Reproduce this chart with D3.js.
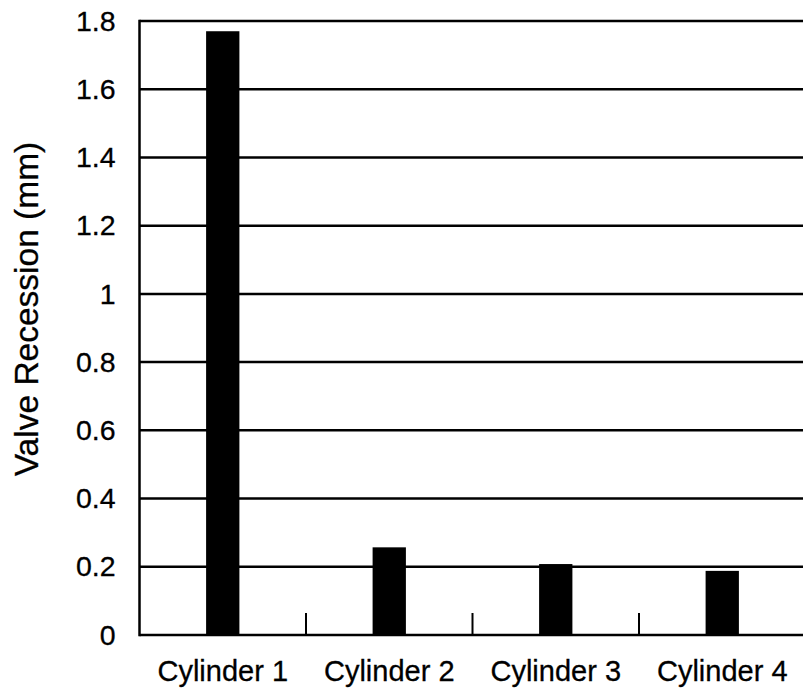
<!DOCTYPE html>
<html>
<head>
<meta charset="utf-8">
<script src="https://cdn.jsdelivr.net/npm/d3@7"></script>
<style>
  body { margin: 0; background: #fff; }
  svg { display: block; }
  text { font-family: "Liberation Sans", Arial, Helvetica, sans-serif; fill: #000; stroke: #000; stroke-width: 0.3; }
</style>
</head>
<body>
<svg width="803" height="690"></svg>
<script>
// chart data
const cylinders = ["Cylinder 1", "Cylinder 2", "Cylinder 3", "Cylinder 4"];
const recession = [1.77, 0.257, 0.208, 0.188];
const yTicks = [0, 0.2, 0.4, 0.6, 0.8, 1, 1.2, 1.4, 1.6, 1.8];
const yTickLabels = ["0", "0.2", "0.4", "0.6", "0.8", "1", "1.2", "1.4", "1.6", "1.8"];
const yTitle = "Valve Recession (mm)";

const svg = d3.select("svg");

// scales
const x = d3.scaleBand()
    .domain(cylinders)
    .range([139.5, 805.5])
    .padding(0);

const y = d3.scaleLinear()
    .domain([0, 1.8])
    .range([635, 21]);

// horizontal grid lines (incl. top at 1.8)
svg.append("g")
  .selectAll("line")
  .data(yTicks.filter(d => d > 0))
  .enter().append("line")
    .attr("x1", x.range()[0])
    .attr("x2", 803)
    .attr("y1", d => y(d))
    .attr("y2", d => y(d))
    .attr("stroke", "#000")
    .attr("stroke-width", 2.5);

// bars
const barFrac = 0.2;
svg.append("g")
  .selectAll("rect")
  .data(cylinders.map((c, i) => ({ c, v: recession[i] })))
  .enter().append("rect")
    .attr("x", d => x(d.c) + x.bandwidth() * (1 - barFrac) / 2)
    .attr("width", x.bandwidth() * barFrac)
    .attr("y", d => y(d.v))
    .attr("height", d => y(0) - y(d.v))
    .attr("fill", "#000");

// y axis labels
const yAxis = svg.append("g")
    .attr("transform", `translate(${x.range()[0]},0)`)
    .call(d3.axisLeft(y)
      .tickValues(yTicks)
      .tickSize(0)
      .tickPadding(24)
      .tickFormat((d, i) => yTickLabels[i]));
yAxis.select(".domain").remove();
yAxis.selectAll("text")
    .attr("font-size", 28.5)
    .attr("font-family", "Liberation Sans, Arial, sans-serif");

// x axis labels
const xAxis = svg.append("g")
    .attr("transform", `translate(0,${y(0)})`)
    .call(d3.axisBottom(x)
      .tickSize(0)
      .tickPadding(25));
xAxis.select(".domain").remove();
xAxis.selectAll("text")
    .attr("font-size", 29)
    .attr("font-family", "Liberation Sans, Arial, sans-serif");

// category separator ticks
svg.append("g")
  .selectAll("line")
  .data(cylinders.slice(1))
  .enter().append("line")
    .attr("x1", d => x(d))
    .attr("x2", d => x(d))
    .attr("y1", y(0))
    .attr("y2", y(0) - 22)
    .attr("stroke", "#000")
    .attr("stroke-width", 2);

// axis lines
svg.append("line")
    .attr("x1", x.range()[0])
    .attr("x2", x.range()[0])
    .attr("y1", y(1.8) - 1.25)
    .attr("y2", y(0) + 1.25)
    .attr("stroke", "#000")
    .attr("stroke-width", 2.5);

svg.append("line")
    .attr("x1", x.range()[0])
    .attr("x2", 803)
    .attr("y1", y(0))
    .attr("y2", y(0))
    .attr("stroke", "#000")
    .attr("stroke-width", 2.5);

// y title
svg.append("text")
    .attr("transform", "rotate(-90)")
    .attr("x", -309)
    .attr("y", 38)
    .attr("text-anchor", "middle")
    .attr("font-size", 33.5)
    .text(yTitle);
</script>
</body>
</html>
